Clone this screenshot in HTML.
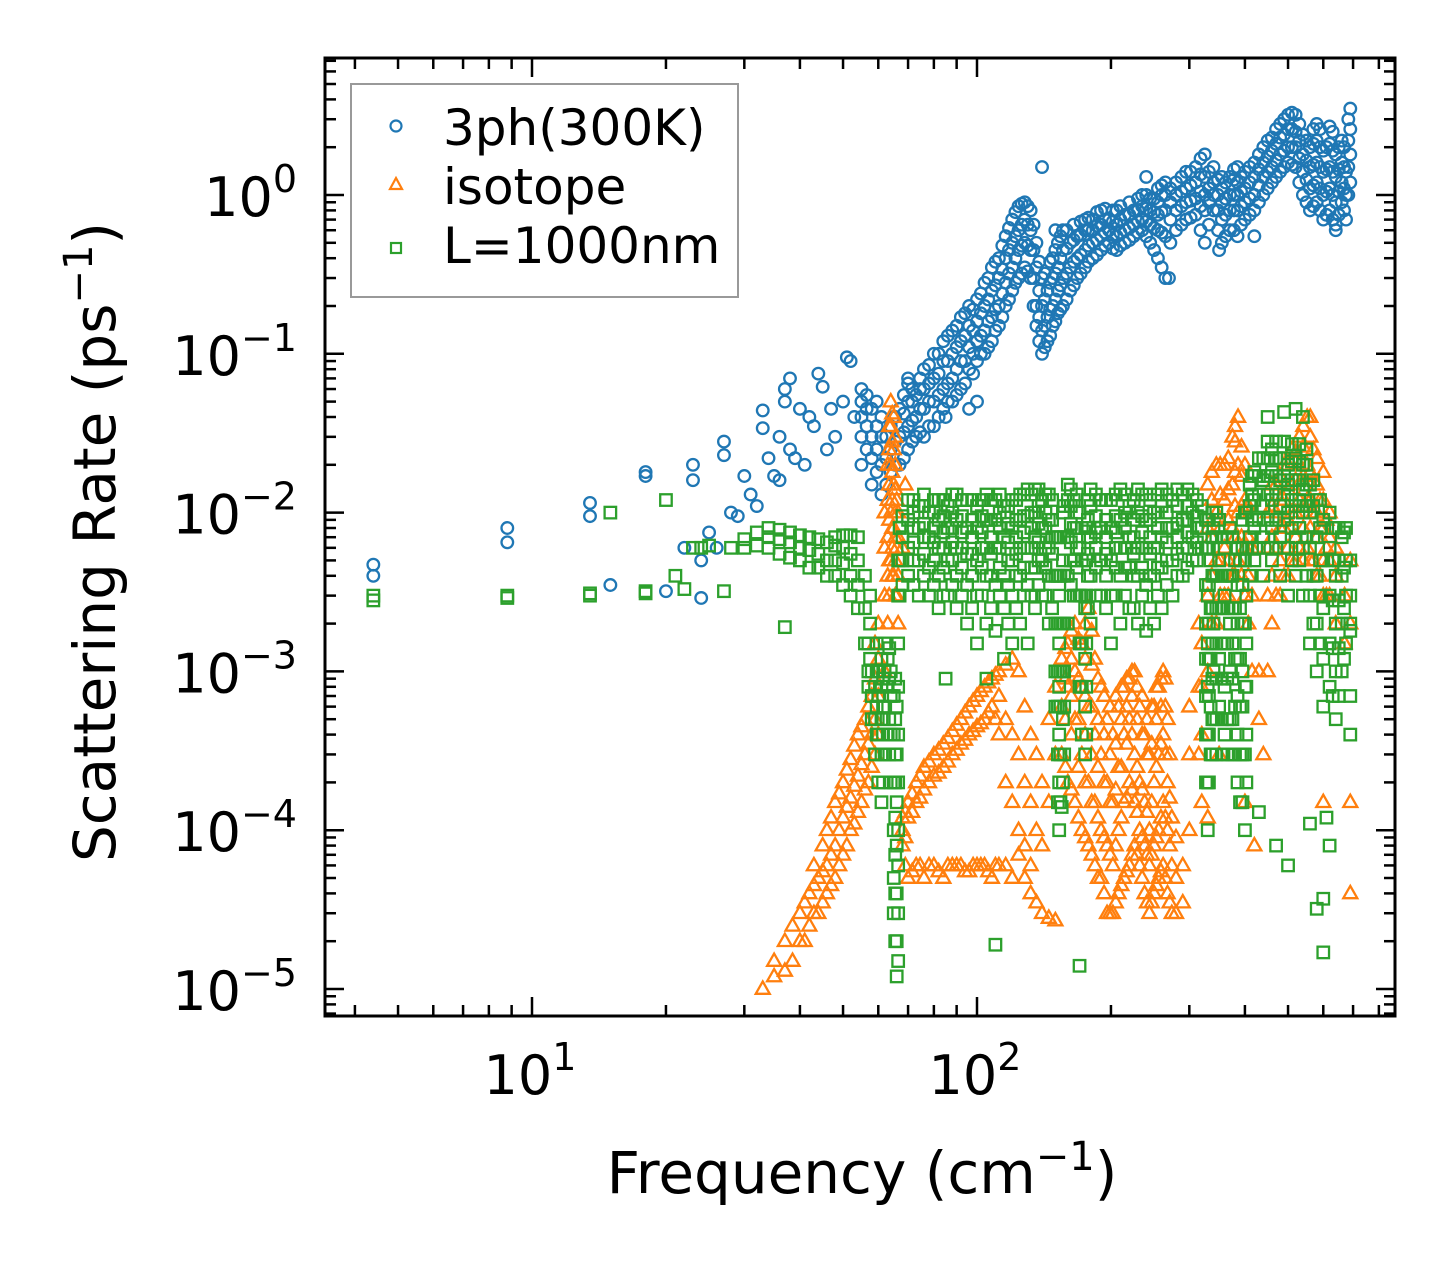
<!DOCTYPE html>
<html><head><meta charset="utf-8"><style>
html,body{margin:0;padding:0;background:#fff;}
svg{display:block;font-family:"DejaVu Sans","Liberation Sans",sans-serif;}
</style></head><body>
<svg id="chart" width="1455" height="1265" viewBox="0 0 1455 1265" xmlns="http://www.w3.org/2000/svg">
<rect x="0" y="0" width="1455" height="1265" fill="#fff"/>
<g id="marks"></g>
<g id="axes"></g>
<g id="legend">
<rect x="351" y="84" width="387" height="213" fill="#fff" fill-opacity="0.8" stroke="#999" stroke-width="2"/>
<circle cx="396" cy="126" r="5.5" fill="none" stroke="#1f77b4" stroke-width="2.2"/>
<text x="443" y="145" font-size="50">3ph(300K)</text>
<polygon points="396,178 402,189 390,189" fill="none" stroke="#ff7f0e" stroke-width="2.2"/>
<text x="443" y="204" font-size="50">isotope</text>
<rect x="391" y="243" width="10" height="10" fill="none" stroke="#2ca02c" stroke-width="2.2"/>
<text x="443" y="263" font-size="50">L=1000nm</text>
</g>
<text x="862" y="1193" font-size="58" text-anchor="middle">Frequency (cm<tspan font-size="40" dy="-23">−1</tspan><tspan dy="23">)</tspan></text>
<text transform="translate(115,542) rotate(-90)" font-size="58" text-anchor="middle">Scattering Rate (ps<tspan font-size="40" dy="-23">−1</tspan><tspan dy="23">)</tspan></text>
</svg>
<script>
// ---- data ----
const blueLowFreq = [4.4,4.4,8.8,8.8,13.5,13.5,15,18,18,20,22,23,23,24,24,25,26,27,27,28,29,30,31,32,33,33,34,35,36,36,37,37,38,38,39,40,41,42,43,44,45,46,47,48,50,51,52,53,140,150,100,85,70,65,240,270,350,420,640];
const blueLowRate = [0.0047,0.004,0.008,0.0065,0.0115,0.0095,0.0035,0.018,0.017,0.0032,0.006,0.02,0.016,0.005,0.0029,0.0075,0.006,0.028,0.023,0.01,0.0095,0.017,0.013,0.011,0.044,0.034,0.022,0.017,0.03,0.016,0.06,0.05,0.07,0.025,0.022,0.045,0.02,0.04,0.035,0.075,0.062,0.025,0.045,0.03,0.05,0.095,0.09,0.04,1.5,0.6,0.05,0.04,0.07,0.04,1.3,0.3,0.45,0.55,0.6];
const blueBandFreq = [55,58,61,64,67,70,73,76,80,84,88,92,96,100,104,108,112,116,120,124,128,132,136,140,144,148,152,156,162,168,175,182,190,198,206,215,225,235,245,255,265,280,295,310,325,340,355,370,385,400,420,440,460,480,500,520,540,560,580,600,620,640,660,675,690];
const blueBandRate = [[.02,.03,.04,.05,.06],[.015,.022,.03,.045],[.013,.02,.03,.04],[.018,.025,.035],[.02,.03,.045],[.025,.035,.05,.065],[.03,.04,.055],[.03,.045,.06,.08],[.035,.05,.07,.1],[.045,.06,.09,.12],[.05,.07,.1,.14],[.06,.09,.12,.17],[.045,.08,.11,.15,.2],[.09,.12,.16,.22],[.1,.14,.2,.28],[.12,.17,.25,.35],[.15,.2,.3,.4],[.2,.28,.4,.55],[.25,.35,.5,.7],[.3,.45,.6,.85],[.35,.5,.7,.9],[.3,.45,.6,.8],[.15,.2,.35,.5],[.1,.14,.2,.3],[.12,.17,.25],[.15,.2,.3,.4],[.18,.25,.35,.5],[.2,.3,.45,.6],[.25,.35,.5],[.3,.4,.55],[.35,.45,.6,.7],[.4,.5,.6,.7],[.45,.55,.65,.8],[.5,.6,.7],[.45,.55,.65,.8],[.5,.6,.75],[.55,.65,.8],[.6,.7,.85,1.0],[.5,.65,.8,.95],[.4,.6,.75,.9,1.1],[.3,.55,.8,1.0,1.2],[.6,.8,1.0,1.2],[.7,.9,1.1,1.4],[.75,.95,1.2,1.5],[.5,.8,1.0,1.3,1.8],[.8,1.0,1.2,1.5],[.5,.7,.9,1.1,1.3],[.6,.8,1.0,1.3],[.55,.8,1.0,1.2,1.5],[.7,.9,1.1,1.4],[.8,1.0,1.3,1.6],[1.0,1.3,1.6,2.0],[1.2,1.5,1.9,2.3],[1.4,1.8,2.3,2.8],[1.6,2.0,2.6,3.2],[1.5,2.0,2.5,3.2],[1.0,1.4,1.8,2.4],[.8,1.1,1.5,2.0],[.9,1.2,1.6,2.2,2.8],[.7,1.0,1.4,1.9],[.8,1.1,1.5,2.1,2.7],[.65,.9,1.3,1.8],[.9,1.2,1.6,2.2],[.7,1.0,1.4],[1.2,1.8,2.6,3.5]];
const blueBand2Freq = [56.5,59.5,62.5,65.5,68.5,71.5,74.5,78,82,86,90,94,98,102,106,110,114,118,122,126,130,134,138,142,146,150,154,159,165,171,178,186,194,202,210,220,230,240,250,260,272,288,302,318,332,348,362,378,392,410,430,450,470,490,510,530,550,570,590,610,630,650,668,683];
const blueBand2Rate = [[.025,.035,.045,.055],[.018,.025,.035,.05],[.015,.022,.03],[.02,.028,.04],[.022,.032,.042,.055],[.028,.038,.05,.06],[.032,.045,.06,.07],[.035,.05,.065,.085],[.04,.055,.075,.1],[.05,.065,.09,.13],[.055,.08,.11,.15],[.065,.09,.13,.18],[.075,.1,.14,.19],[.1,.13,.18,.24],[.11,.16,.22,.3],[.14,.19,.27,.38],[.17,.24,.34,.48],[.22,.32,.45,.62],[.28,.4,.55,.78],[.32,.48,.65,.88],[.33,.48,.65,.85],[.2,.3,.45,.65],[.12,.17,.25,.38],[.11,.15,.22,.32],[.13,.19,.28,.38],[.16,.22,.32,.45],[.19,.27,.4,.55],[.22,.32,.46,.6],[.27,.38,.52,.65],[.32,.42,.56,.68],[.38,.48,.6,.72],[.42,.52,.64,.78],[.48,.58,.7,.82],[.46,.56,.68,.8],[.48,.58,.7,.85],[.52,.62,.75,.9],[.58,.68,.8,.95],[.55,.68,.82,1.0],[.45,.62,.78,.95],[.35,.58,.78,1.0,1.15],[.5,.7,.9,1.1],[.65,.85,1.05,1.3],[.72,.92,1.15,1.4],[.6,.85,1.05,1.35,1.7],[.65,.9,1.1,1.4],[.6,.8,1.0,1.25],[.55,.75,.95,1.2],[.6,.8,1.0,1.25,1.45],[.65,.85,1.05,1.3],[.75,.95,1.2,1.5],[.9,1.15,1.45,1.8],[1.1,1.4,1.75,2.2],[1.3,1.65,2.1,2.6],[1.5,1.9,2.4,3.0],[1.55,2.0,2.6,3.3],[1.2,1.7,2.2,2.8],[.9,1.25,1.65,2.2],[.85,1.15,1.55,2.1,2.6],[.8,1.1,1.5,2.0,2.6],[.75,1.05,1.45,2.0],[.7,1.0,1.4,1.9,2.5],[.75,1.05,1.45,2.0],[.8,1.1,1.5,2.0],[1.0,1.5,2.2,3.0]];

const orangeFreq = [33,35,37,40,42,44,46,48,50,52,54,56,58,60,62,64,65,66,68,70,73,76,80,84,88,92,96,100,104,108,112,116,120,124,128,132,136,140,145,150,155,160,166,172,178,184,190,196,202,208,214,220,226,232,238,244,250,256,262,268,274,280,290,300,315,330,345,360,375,386,400,415,430,450,470,490,510,530,552,570,590,610,640,670,690];
const orangeRate = [[1e-5],[1.2e-5,1.5e-5],[1.3e-5,2e-5],[2e-5,3e-5],[2.5e-5,4e-5],[3e-5,5e-5],[4e-5,6e-5,1e-4],[5e-5,8e-5,1.5e-4],[7e-5,1.2e-4,2e-4],[1e-4,1.6e-4,2.8e-4],[1.3e-4,2.2e-4,4e-4],[1.8e-4,3e-4,5e-4],[2.5e-4,4e-4,7e-4],[4e-4,7e-4,1.2e-3,2e-3],[1e-3,3e-3,6e-3,1e-2],[5e-3,1e-2,2e-2,3.5e-2,5e-2],[4e-3,8e-3,1.5e-2,2.5e-2,4e-2],[3e-3,6e-3,1.2e-2],[8e-5,1e-4,1.2e-4],[5e-5,1.2e-4,1.5e-4],[6e-5,1.5e-4,2e-4],[5e-5,1.8e-4,2.5e-4],[6e-5,2.2e-4,3e-4],[5e-5,2.5e-4,3.5e-4],[6e-5,3e-4,4.2e-4],[6e-5,3.5e-4,5e-4],[5.5e-5,4e-4,6e-4],[6e-5,4.5e-4,7e-4],[6e-5,5e-4,8e-4],[5e-5,6e-4,9e-4],[6e-5,4e-4,7e-4,1e-3],[6e-5,2e-4,5e-4,1.1e-3],[5e-5,1.5e-4,4e-4,1.2e-3],[7e-5,1e-4,3e-4,1e-3],[5e-5,8e-5,2e-4,6e-4],[4e-5,6e-5,1.5e-4,4e-4],[3.5e-5,1e-4,3e-4],[3e-5,8e-5,2e-4],[2.8e-5,1.5e-4,5e-4],[2.7e-5,3e-4,8e-4],[3e-4,6e-4,1.2e-3],[2e-4,8e-4,1.5e-3],[1.5e-4,5e-4,1e-3,2e-3],[1e-4,3e-4,8e-4,1.5e-3],[8e-5,2e-4,6e-4,2.5e-3],[6e-5,1.5e-4,4e-4,1.2e-3],[5e-5,1e-4,3e-4,8e-4],[3e-5,8e-5,2e-4,5e-4],[3e-5,6e-5,1.5e-4,4e-4],[4e-5,1e-4,2.5e-4,6e-4],[5e-5,1.5e-4,4e-4,8e-4],[6e-5,2e-4,5e-4,9e-4],[8e-5,1.5e-4,3e-4,1e-3],[6e-5,1e-4,2e-4,6e-4],[4e-5,8e-5,1.5e-4,4e-4],[3e-5,6e-5,1e-4,3e-4],[4e-5,8e-5,2e-4,6e-4],[5e-5,1e-4,3e-4,8e-4],[6e-5,1.5e-4,4e-4,1e-3],[4e-5,1e-4,2e-4,5e-4],[3e-5,6e-5,1.2e-4],[3e-5,5e-5,9e-5],[3.5e-5,6e-5],[1e-4,3e-4,6e-4],[3e-4,8e-4,2e-3],[1e-3,3e-3,8e-3,1.5e-2],[2e-3,5e-3,1e-2,2e-2],[3e-3,6e-3,1.2e-2,2e-2],[4e-3,8e-3,1.5e-2,3e-2],[5e-3,1e-2,2e-2,4e-2],[3e-3,6e-3,1.2e-2,2e-2],[1e-3,3e-3,6e-3],[5e-4,1e-3],[1e-3,3e-3,6e-3,1e-2],[3e-3,6e-3,1e-2,1.5e-2],[4e-3,8e-3,1.2e-2,2e-2],[5e-3,1e-2,1.5e-2,2.5e-2],[6e-3,1.2e-2,2e-2,3e-2],[6e-3,1.2e-2,2e-2,4e-2],[5e-3,1e-2,1.6e-2,2.5e-2],[4e-3,8e-3,1.2e-2],[3e-3,6e-3,9e-3],[2e-3,4e-3,6e-3],[1.5e-3,3e-3],[2e-3,5e-3]];
const orange2Freq = [38.5,41,43,45,47,49,51,53,55,57,59,63,63.5,64.5,65.5,66.5,69,71.5,74.5,78,82,86,90,94,98,102,106,110,158,163,169,175,181,187,193,199,205,211,217,223,229,235,241,247,253,259,265,271,320,337,352,367,380,393,407,460,480,500,520,541,561,580,600,620];
const orange2Rate = [[1.5e-5,2.5e-5],[2e-5,3.5e-5],[3e-5,4.5e-5,6e-5],[3.5e-5,5.5e-5,8e-5],[4.5e-5,7e-5,1.2e-4],[6e-5,1e-4,1.7e-4],[8e-5,1.4e-4,2.4e-4],[1.1e-4,1.9e-4,3.4e-4],[1.5e-4,2.6e-4,4.5e-4],[2e-4,3.5e-4,6e-4],[3e-4,5e-4,9e-4,1.5e-3],[2e-3,4e-3,7e-3,1.2e-2,2e-2],[3e-3,5e-3,9e-3,1.5e-2,2.5e-2,3.5e-2],[4e-3,6e-3,8e-3,1.2e-2,1.8e-2,2.8e-2,4.2e-2],[3e-3,5e-3,7e-3,1e-2,1.4e-2,2e-2,3e-2],[2e-3,4e-3,7e-3,1e-2],[6e-5,9e-5,1.3e-4],[5.5e-5,1.3e-4,1.7e-4],[6e-5,1.6e-4,2.2e-4],[6e-5,2e-4,2.7e-4],[5.5e-5,2.3e-4,3.2e-4],[6e-5,2.7e-4,3.8e-4],[6e-5,3.2e-4,4.6e-4],[5.5e-5,3.7e-4,5.5e-4],[6e-5,4.2e-4,6.5e-4],[6e-5,4.7e-4,7.5e-4],[5.5e-5,5.5e-4,8.5e-4],[6e-5,5e-4,9.5e-4],[2.5e-4,5e-4,9e-4,1.4e-3],[1.8e-4,4e-4,7e-4,1.2e-3,1.8e-3],[1.2e-4,2.5e-4,5e-4,9e-4,1.6e-3],[9e-5,2e-4,4e-4,7e-4,1.2e-3,2e-3],[7e-5,1.5e-4,3e-4,6e-4,1.1e-3,1.8e-3],[5e-5,1.2e-4,2.5e-4,5e-4,9e-4],[4e-5,9e-5,2e-4,4e-4,7e-4],[3e-5,7e-5,1.5e-4,3e-4,6e-4],[3.5e-5,8e-5,1.8e-4,3.5e-4,7e-4],[4.5e-5,1.2e-4,2.5e-4,5e-4,8e-4],[5.5e-5,1.6e-4,3.5e-4,6e-4,9e-4],[7e-5,1.8e-4,4e-4,7e-4,1e-3],[7e-5,1.3e-4,2.5e-4,5e-4,8e-4],[5e-5,9e-5,1.8e-4,4e-4,7e-4],[3.5e-5,7e-5,1.3e-4,3e-4,5e-4],[3.5e-5,7e-5,1.5e-4,3.5e-4,6e-4],[4.5e-5,9e-5,2.5e-4,5e-4,8e-4],[5.5e-5,1.2e-4,3.5e-4,6e-4,9e-4],[5e-5,1.2e-4,3e-4,6e-4,9e-4],[3.5e-5,8e-5,1.6e-4,3e-4],[1.5e-4,4e-4,8e-4,1.5e-3],[2e-3,4e-3,7e-3,1.2e-2,1.8e-2],[3e-3,5e-3,8e-3,1.3e-2,2e-2],[3e-3,5e-3,9e-3,1.4e-2,2.2e-2],[4e-3,7e-3,1.1e-2,1.8e-2,2.8e-2,3.5e-2],[4e-3,7e-3,1.1e-2,1.7e-2,2.6e-2],[2e-3,4e-3,7e-3,1.1e-2],[2e-3,4e-3,7e-3,1.1e-2,1.5e-2],[3e-3,5e-3,8e-3,1.2e-2,1.7e-2],[4e-3,6e-3,9e-3,1.4e-2,2e-2],[5e-3,7e-3,1e-2,1.6e-2,2.4e-2],[5e-3,8e-3,1.1e-2,1.7e-2,2.6e-2,3.5e-2],[5e-3,8e-3,1.2e-2,1.8e-2,3e-2,4e-2],[4e-3,7e-3,1e-2,1.5e-2,2.2e-2],[3e-3,5e-3,8e-3,1.2e-2,1.8e-2],[3e-3,5e-3,7e-3,1e-2]];
const orangeExtraFreq = [690,690,420,440,400,330,350,68,69,600];
const orangeExtraRate = [1.5e-4,4e-5,8e-5,3e-4,1.5e-4,1.2e-4,3e-4,6e-3,1.5e-2,1.5e-4];

const greenLowFreq = [4.4,4.4,8.8,8.8,13.5,13.5,15,18,18,20,21,22,23,24,25,27,28,37,85,105,110,170,450,490,520,540,430,470,500,560,580,600,600,620,690,690,690,610,155];
const greenLowRate = [0.003,0.0028,0.003,0.0029,0.0031,0.003,0.01,0.0032,0.0031,0.012,0.004,0.0033,0.006,0.006,0.0062,0.0032,0.006,0.0019,0.0009,0.0009,0.000019,0.000014,0.04,0.043,0.045,0.04,0.00013,0.00008,0.00006,0.00011,0.000032,0.000037,0.000017,0.00008,0.0018,0.0004,0.0007,0.00012,0.00014];
const greenFreq = [30,32,34,36,38,40,42,44,46,48,50,52,54,56,57,58,59,60,61,62,63,64,65,66,67,70,74,78,82,86,90,95,100,105,110,115,120,125,130,135,140,145,150,153,156,160,165,170,175,180,190,200,210,220,230,240,250,260,275,290,305,320,330,335,340,350,360,370,380,390,400,410,420,440,460,480,500,520,540,560,580,600,620,640,660,675,690];
const greenRate = [[.006,.0068],[.0062,.0075],[.006,.007,.008],[.0055,.0068,.0078],[.0052,.0065,.0075],[.005,.006,.0072],[.0045,.0058,.007],[.0045,.0055,.0068],[.004,.005,.0065],[.004,.005,.0062,.007],[.0035,.0048,.006,.0072],[.003,.004,.0055,.0072],[.0025,.0035,.005,.007],[.0015,.0025,.004],[.0008,.001,.0015],[.0005,.0007,.001],[.0003,.0005,.0008],[.0002,.0004,.0007,.001],[.00015,.0003,.0005,.0008,.0012],[.0003,.0006,.001,.0015],[.0004,.0008,.0012],[.0002,.0004,.0007,.001],[.00003,.00005,.0001,.0002,.0004,.0007],[.000012,.00002,.00004,.00008,.00015,.0003,.0006],[.003,.005,.008],[.004,.006,.009,.012],[.003,.005,.008,.011],[.003,.0045,.007,.01],[.0025,.004,.006,.009,.012],[.003,.005,.008,.011],[.0025,.004,.006,.009,.013],[.002,.0035,.0055,.008,.012],[.0015,.003,.005,.008,.011],[.002,.004,.006,.009,.013],[.0018,.0035,.006,.009,.012],[.0012,.0025,.004,.007,.011],[.0015,.003,.005,.008,.012],[.002,.004,.006,.009,.013],[.0015,.0035,.006,.0095,.014],[.0025,.0045,.007,.01,.014],[.003,.005,.008,.012],[.002,.004,.006,.009,.013],[.0006,.001,.002,.004,.007],[.0001,.0002,.0004,.0008,.0015,.003],[.0002,.0005,.001,.002,.005,.01],[.002,.004,.007,.012,.015],[.003,.005,.008,.012],[.0008,.0015,.003,.006,.01],[.0003,.0006,.0012,.0025],[.002,.004,.007,.011,.014],[.003,.005,.008,.012],[.0015,.003,.005,.008,.012],[.002,.004,.006,.009,.014],[.0025,.0045,.007,.011],[.002,.004,.006,.01,.014],[.0018,.0035,.006,.009,.013],[.002,.004,.006,.01],[.0025,.0045,.007,.011,.014],[.003,.005,.008,.012],[.004,.006,.009,.013],[.005,.007,.01,.013],[.006,.008,.011],[.0001,.0002,.0004,.0008,.0015,.003,.006],[.0003,.0006,.0012,.0025,.005],[.0005,.001,.002,.004,.008],[.0006,.0012,.0025,.005,.009],[.0004,.0008,.0015,.003,.006],[.0005,.001,.002,.004,.008],[.0003,.0006,.0012,.0025,.005],[.00015,.0003,.0006,.0012,.0025,.005],[.0001,.0003,.0008,.002,.005,.01],[.004,.007,.011,.015],[.005,.008,.012,.018],[.004,.007,.011,.016,.022],[.005,.008,.012,.018,.025],[.004,.007,.011,.016,.022],[.003,.006,.01,.015,.02],[.004,.007,.011,.016,.022],[.003,.006,.01,.014,.02],[.0015,.003,.006,.01,.015],[.001,.002,.004,.007,.012],[.0006,.0012,.0025,.005,.009],[.0008,.0015,.003,.006,.01],[.0005,.001,.002,.004,.008],[.001,.002,.004,.007],[.0015,.003,.005,.008],[.002,.003,.005]];
const green2Freq = [57.5,59.5,61.5,63.5,65.5,66.5,68,72,76,80,84,88,92.5,97.5,102.5,107.5,112.5,117.5,122.5,127.5,132.5,137.5,142.5,147.5,152,154,157,162.5,167.5,172,176,177.5,185,195,205,215,225,235,245,255,267,282,297,312,327,332,338,345,355,365,375,385,395,403,415,430,450,470,490,510,530,550,570,590,630,650,668];
const green2Rate = [[.0012,.002,.003],[.0004,.0006,.001,.0015],[.0002,.0004,.0006,.0009],[.0003,.0005,.0009,.0014],[.00002,.00004,.00007,.00012,.0002,.0003,.0005,.0009],[.000015,.00003,.00006,.0001,.0002,.0004,.0008,.0015,.003,.005],[.0035,.005,.007,.0095],[.0035,.005,.0065,.008,.01,.012],[.004,.0055,.007,.0085,.011,.013],[.0035,.005,.0065,.008,.01,.012],[.003,.0045,.006,.0075,.0095,.012],[.0035,.005,.0065,.008,.01,.013],[.003,.0045,.006,.0075,.0095,.012],[.0025,.004,.0055,.007,.009,.012],[.003,.0045,.006,.0075,.0095,.012],[.0025,.004,.0055,.007,.009,.012],[.003,.0045,.006,.008,.01,.013],[.002,.0035,.005,.0065,.0085,.011],[.0025,.004,.0055,.007,.009,.012],[.003,.0045,.006,.0075,.0095,.013],[.003,.0045,.006,.008,.01,.013],[.0035,.005,.0065,.0085,.011,.014],[.003,.0045,.006,.008,.01,.013],[.0025,.004,.0055,.007,.009,.012],[.00015,.0003,.0006,.001,.002,.004,.007],[.00015,.0003,.0006,.001,.002,.004,.007],[.0003,.0006,.001,.002,.004,.007,.011],[.0035,.005,.0065,.0085,.011,.014],[.003,.0045,.006,.008,.01,.013],[.0004,.0008,.0015,.003,.005,.008],[.0004,.0008,.0015,.003,.005,.008],[.0025,.004,.0055,.007,.009,.012],[.003,.0045,.006,.0075,.0095,.013],[.0025,.004,.0055,.007,.009,.012],[.003,.0045,.006,.0075,.0095,.013],[.003,.0045,.006,.008,.01,.013],[.0025,.004,.0055,.007,.009,.012],[.003,.0045,.006,.0075,.0095,.013],[.0025,.004,.0055,.007,.009,.012],[.003,.0045,.006,.008,.01,.013],[.0035,.005,.0065,.008,.01,.013],[.004,.0055,.007,.0085,.011,.014],[.0045,.006,.0075,.009,.011,.014],[.005,.0065,.008,.0095,.012],[.0002,.0004,.0007,.0012,.002,.0035,.006,.009],[.0002,.0004,.0007,.0012,.002,.0035,.006,.009],[.0003,.0005,.0009,.0015,.0025,.004,.007,.01],[.0003,.0005,.0009,.0015,.0025,.004,.007,.01],[.0003,.0005,.0009,.0015,.0025,.004,.007],[.0003,.0005,.0009,.0015,.0025,.004,.007],[.0003,.0005,.0009,.0015,.0025,.004,.007],[.0002,.0004,.0007,.0012,.002,.0035,.006],[.00015,.0003,.0006,.001,.002,.0035,.006,.009],[.0002,.0004,.0008,.0015,.003,.006,.01],[.006,.009,.013,.017],[.006,.009,.013,.017,.022],[.006,.009,.013,.017,.022,.028],[.006,.009,.013,.017,.022,.028],[.006,.009,.013,.017,.022,.028],[.005,.008,.012,.016,.021,.027],[.005,.008,.012,.016,.021,.027],[.004,.007,.011,.015,.02,.025],[.002,.004,.007,.011,.016],[.0015,.003,.005,.008,.012],[.0007,.0014,.0028,.005,.008],[.0007,.0014,.0028,.005,.008],[.0012,.0025,.0045,.0075]];

const xTickValues = [10,100];
const xTickLabels = ['1','2'];
const yTickValues = [1,0.1,0.01,0.001,0.0001,0.00001];
const yTickLabels = ['0','−1','−2','−3','−4','−5'];

// ---- axes ----
const L=325,R=1395,T=58,B=1016;
function sx(f){return 532+445*(Math.log10(f)-1);}
function sy(r){return 195-158.8*Math.log10(r);}
const NS='http://www.w3.org/2000/svg';
const marks=document.getElementById('marks');
const axes=document.getElementById('axes');
function mk(tag,attrs,parent){const e=document.createElementNS(NS,tag);for(const k in attrs)e.setAttribute(k,attrs[k]);parent.appendChild(e);return e;}
const SW=2.3;
function circle(f,r){const e=mk('circle',{cx:sx(f),cy:sy(r),r:5.8,fill:'none',stroke:'#1f77b4','stroke-width':SW},marks);

}
function tri(f,r){const x=sx(f),y=sy(r);const e=mk('polygon',{points:`${x},${y-7.5} ${x+7},${y+4.8} ${x-7},${y+4.8}`,fill:'none',stroke:'#ff7f0e','stroke-width':SW},marks);

}
function sq(f,r){const x=sx(f),y=sy(r);const e=mk('rect',{x:x-5.75,y:y-5.75,width:11.5,height:11.5,fill:'none',stroke:'#2ca02c','stroke-width':SW},marks);

}

blueLowFreq.forEach((f,i)=>circle(f,blueLowRate[i]));
blueBandFreq.forEach((f,i)=>blueBandRate[i].forEach(r=>circle(f,r)));
blueBand2Freq.forEach((f,i)=>blueBand2Rate[i].forEach(r=>circle(f,r)));
orangeFreq.forEach((f,i)=>orangeRate[i].forEach(r=>tri(f,r)));
orange2Freq.forEach((f,i)=>orange2Rate[i].forEach(r=>tri(f,r)));
orangeExtraFreq.forEach((f,i)=>tri(f,orangeExtraRate[i]));
greenLowFreq.forEach((f,i)=>sq(f,greenLowRate[i]));
greenFreq.forEach((f,i)=>greenRate[i].forEach(r=>sq(f,r)));
green2Freq.forEach((f,i)=>green2Rate[i].forEach(r=>sq(f,r)));

const fr=mk('rect',{x:L,y:T,width:R-L,height:B-T,fill:'none',stroke:'#000','stroke-width':3},axes);


function line(x1,y1,x2,y2,name){const e=mk('line',{x1,y1,x2,y2,stroke:'#000','stroke-width':2.5},axes);

}
for(let d=0;d<3;d++){for(let m=1;m<10;m++){const f=m*Math.pow(10,d);const x=sx(f);if(x<L+1||x>R-1)continue;const len=m===1?19:11;
line(x,B,x,B-len,'x-tick');line(x,T,x,T+len,'x-tick-top');}}
xTickValues.forEach((v,i)=>{const t=mk('text',{x:sx(v)-2,y:1094,'font-size':54,'text-anchor':'middle'},axes);


t.innerHTML=`10<tspan font-size="38" dy="-24">${xTickLabels[i]}</tspan>`;});
for(let d=-6;d<=1;d++){for(let m=1;m<10;m++){const r=m*Math.pow(10,d);const y=sy(r);if(y<T+1||y>B-1)continue;const len=m===1?19:11;
line(L,y,L+len,y,'y-tick');line(R,y,R-len,y,'y-tick-right');}}
yTickValues.forEach((v,i)=>{const t=mk('text',{x:297,y:sy(v)+21,'font-size':54,'text-anchor':'end'},axes);


t.innerHTML=`10<tspan font-size="38" dy="-24">${yTickLabels[i]}</tspan>`;});
</script>
</body></html>
